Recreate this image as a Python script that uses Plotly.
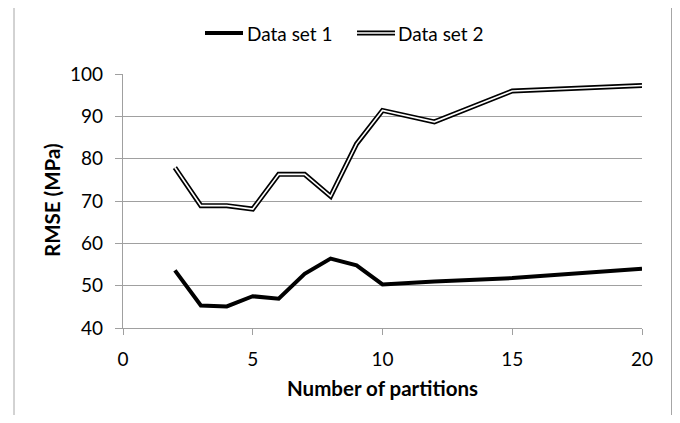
import plotly.graph_objects as go

partitions = [2, 3, 4, 5, 6, 7, 8, 9, 10, 12, 15, 20]
data_set_1 = [53.6, 45.3, 45.1, 47.5, 46.9, 52.8, 56.4, 54.8, 50.3, 51.0, 51.8, 54.0]
data_set_2 = [77.9, 68.9, 68.9, 68.1, 76.3, 76.3, 71.1, 83.5, 91.4, 88.7, 96.0, 97.3]
series_names = ["Data set 1", "Data set 2"]
x_ticks = [0, 5, 10, 15, 20]
y_ticks = [40, 50, 60, 70, 80, 90, 100]

FONT = "Lato"
GRID = "#a0a0a0"
FS = 19
TFS = 20.5

fig = go.Figure()
fig.add_trace(go.Scatter(x=partitions, y=data_set_1, mode="lines",
                         line=dict(color="black", width=4), name=series_names[0],
                         showlegend=False))
fig.add_trace(go.Scatter(x=partitions, y=data_set_2, mode="lines",
                         line=dict(color="black", width=5), name=series_names[1],
                         showlegend=False))
fig.add_trace(go.Scatter(x=partitions, y=data_set_2, mode="lines",
                         line=dict(color="white", width=1.6), name=series_names[1],
                         showlegend=False, hoverinfo="skip"))

# page body has an 8px margin; figure sized so the page does not scroll
OFF = 8
W, H = 664, 407
L, R, T, B = 115, 30, 66, 87
pw, ph = W - L - R, H - T - B


def px(xp):
    return (xp - OFF - L) / pw


def py(yp):
    return (H - B - (yp - OFF)) / ph


shapes = [
    dict(type="rect", xref="paper", yref="paper", x0=px(14), x1=px(671.5), y0=py(2.5), y1=py(460),
         line=dict(color="#a6a6a6", width=1), fillcolor="rgba(0,0,0,0)", layer="below"),
    dict(type="line", xref="paper", yref="paper", x0=px(205), x1=px(243), y0=py(33), y1=py(33),
         line=dict(color="black", width=4)),
    dict(type="line", xref="paper", yref="paper", x0=px(357), x1=px(395), y0=py(33), y1=py(33),
         line=dict(color="black", width=5)),
    dict(type="line", xref="paper", yref="paper", x0=px(357), x1=px(395), y0=py(33), y1=py(33),
         line=dict(color="white", width=1.6)),
]
annotations = [
    dict(text=series_names[0], xref="paper", yref="paper", x=px(245), y=py(33),
         xanchor="left", yanchor="middle", showarrow=False,
         font=dict(family=FONT, size=FS, color="black")),
    dict(text=series_names[1], xref="paper", yref="paper", x=px(396), y=py(33),
         xanchor="left", yanchor="middle", showarrow=False,
         font=dict(family=FONT, size=FS, color="black")),
    dict(text="<b>Number of partitions</b>", xref="paper", yref="paper", x=px(382.5), y=py(388),
         xanchor="center", yanchor="middle", showarrow=False,
         font=dict(family=FONT, size=TFS, color="black")),
    dict(text="<b>RMSE (MPa)</b>", xref="paper", yref="paper", x=px(52), y=py(200),
         xanchor="center", yanchor="middle", showarrow=False, textangle=-90,
         font=dict(family=FONT, size=TFS, color="black")),
]

fig.update_layout(
    width=W, height=H,
    margin=dict(l=L, r=R, t=T, b=B, pad=0),
    paper_bgcolor="white", plot_bgcolor="white",
    font=dict(family=FONT, size=FS, color="black"),
    shapes=shapes, annotations=annotations,
    showlegend=False,
    xaxis=dict(range=[0, 20], tickvals=x_ticks, showgrid=False, zeroline=False,
               showline=True, linecolor=GRID, linewidth=1.3,
               ticks="outside", ticklen=6, tickcolor=GRID, tickwidth=1.3,
               ticklabelstandoff=8,
               tickfont=dict(family=FONT, size=FS)),
    yaxis=dict(range=[40, 100], tickvals=y_ticks, showgrid=True, gridcolor=GRID, gridwidth=1.3,
               zeroline=False, showline=True, linecolor=GRID, linewidth=1.3,
               ticks="outside", ticklen=7, tickcolor=GRID, tickwidth=1.3,
               ticklabelstandoff=8,
               tickfont=dict(family=FONT, size=FS)),
)

fig.write_html("out.html")
